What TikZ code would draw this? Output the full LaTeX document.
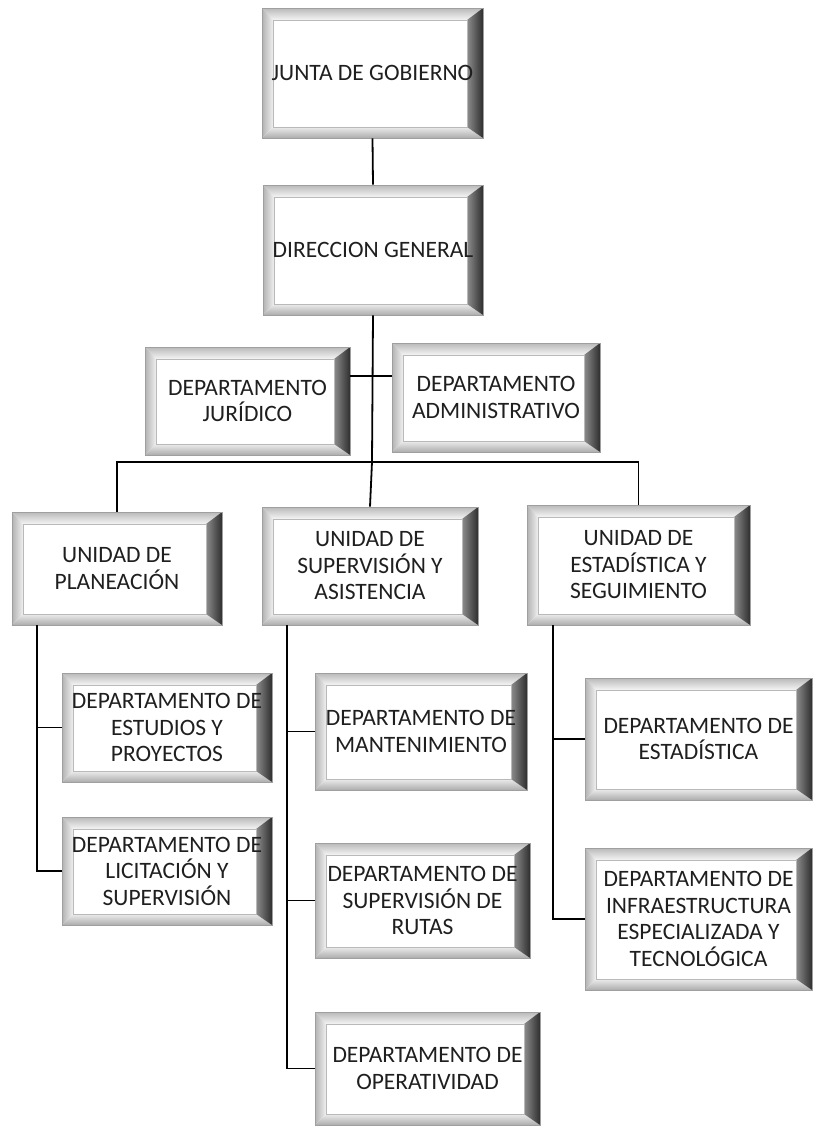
\documentclass[tikz,border=0pt]{standalone}
\usepackage{fontspec}
\setmainfont{Carlito}
\usetikzlibrary{calc}
\tikzset{
  bev/.style={draw=gray!75, line width=0.6pt, fill=white, align=center,
    font=\fontsize{23.5}{26.5}\selectfont, text=black!88, inner sep=0pt,
    path picture={
      \coordinate (NW) at (path picture bounding box.north west);
      \coordinate (NE) at (path picture bounding box.north east);
      \coordinate (SW) at (path picture bounding box.south west);
      \coordinate (SE) at (path picture bounding box.south east);
      \coordinate (iNW) at ([shift={(11pt,-12pt)}]NW);
      \coordinate (iNE) at ([shift={(-16pt,-12pt)}]NE);
      \coordinate (iSW) at ([shift={(11pt,11pt)}]SW);
      \coordinate (iSE) at ([shift={(-16pt,11pt)}]SE);
      \shade[top color=gray!55, bottom color=gray!8] (NW) -- (NE) -- (iNE) -- (iNW) -- cycle;
      \shade[left color=gray!60, right color=gray!12] (NW) -- (iNW) -- (iSW) -- (SW) -- cycle;
      \shade[top color=gray!15, bottom color=gray!65] (SW) -- (iSW) -- (iSE) -- (SE) -- cycle;
      \shade[left color=black!45, right color=black!82] (NE) -- (SE) -- (iSE) -- (iNE) -- cycle;
      \draw[gray!55, line width=0.5pt] (iNW) rectangle (iSE);
    }},
  conn/.style={line width=1.8pt, black}
}
\begin{document}
\begin{tikzpicture}[x=1pt, y=-1pt]
\useasboundingbox (0,0) rectangle (817,1135);

\node[bev, minimum width=221pt, minimum height=130pt] (junta) at (372.5,73) {JUNTA DE GOBIERNO};
\node[bev, minimum width=220pt, minimum height=130pt] (dir) at (373,250) {DIRECCION GENERAL};
\node[bev, minimum width=205pt, minimum height=108pt] (jur) at (247.5,401) {DEPARTAMENTO\\JURÍDICO};
\node[bev, minimum width=208pt, minimum height=109pt] (adm) at (496,397.5) {DEPARTAMENTO\\ADMINISTRATIVO};
\node[bev, minimum width=210pt, minimum height=113pt] (plan) at (117,568.5) {UNIDAD DE\\PLANEACIÓN};
\node[bev, minimum width=216pt, minimum height=118pt] (sup) at (370,566) {UNIDAD DE\\SUPERVISIÓN Y\\ASISTENCIA};
\node[bev, minimum width=223pt, minimum height=120pt] (est) at (638.5,565) {UNIDAD DE\\ESTADÍSTICA Y\\SEGUIMIENTO};
\node[bev, minimum width=210pt, minimum height=109pt] (estud) at (167,727.5) {DEPARTAMENTO DE\\ESTUDIOS Y\\PROYECTOS};
\node[bev, minimum width=210pt, minimum height=108pt] (licit) at (167,871) {DEPARTAMENTO DE\\LICITACIÓN Y\\SUPERVISIÓN};
\node[bev, minimum width=212pt, minimum height=117pt] (mant) at (421,731.5) {DEPARTAMENTO DE\\MANTENIMIENTO};
\node[bev, minimum width=215pt, minimum height=115pt] (rutas) at (422.5,900.5) {DEPARTAMENTO DE\\SUPERVISIÓN DE\\RUTAS};
\node[bev, minimum width=225pt, minimum height=113pt] (oper) at (427.5,1068.5) {DEPARTAMENTO DE\\OPERATIVIDAD};
\node[bev, minimum width=227pt, minimum height=122pt] (estad) at (698.5,739) {DEPARTAMENTO DE\\ESTADÍSTICA};
\node[bev, minimum width=227pt, minimum height=142pt] (infra) at (698.5,919) {DEPARTAMENTO DE\\INFRAESTRUCTURA\\ESPECIALIZADA Y\\TECNOLÓGICA};

\coordinate (mid) at (372,376);
\coordinate (bus) at (372,462);
\coordinate (plf) at (37,625);
\coordinate (suf) at (287,625);
\coordinate (esf) at (553,625);

\draw[conn] (junta.south) -- (dir.north);
\draw[conn] (dir.south) -- (bus);
\draw[conn] (jur.east |- mid) -- (adm.west |- mid);
\draw[conn] (plan.north) -- (plan.north |- bus) -- (est.north |- bus) -- (est.north);
\draw[conn] (bus) -- (sup.north);
\draw[conn] (plf) |- (estud.west);
\draw[conn] (plf) |- (licit.west);
\draw[conn] (suf) |- (mant.west);
\draw[conn] (suf) |- (rutas.west);
\draw[conn] (suf) |- (oper.west);
\draw[conn] (esf) |- (estad.west);
\draw[conn] (esf) |- (infra.west);
\end{tikzpicture}
\end{document}
